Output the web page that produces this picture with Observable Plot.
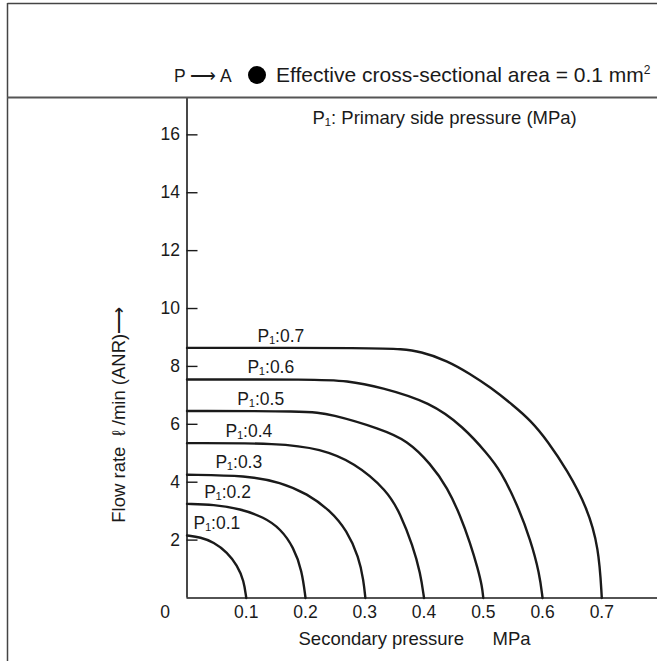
<!DOCTYPE html>
<html>
<head>
<meta charset="utf-8">
<script src="https://cdn.jsdelivr.net/npm/d3@7"></script>
<script src="https://cdn.jsdelivr.net/npm/@observablehq/plot@0.6"></script>
<style>
  html, body { margin: 0; padding: 0; background: #fff; }
  #chart svg { display: block; font-family: "Liberation Sans", Arial, sans-serif; }
</style>
</head>
<body>
<div id="chart"></div>
<script>
// ---- data ----
const pressures = [0.1, 0.2, 0.3, 0.4, 0.5, 0.6, 0.7];
const labelX = [0.011, 0.029, 0.048, 0.065, 0.085, 0.102, 0.119];
const labelLevel = [2.16, 3.25, 4.26, 5.35, 6.46, 7.55, 8.64];
const yTicks = [2, 4, 6, 8, 10, 12, 14, 16];
const xTicks = [0.1, 0.2, 0.3, 0.4, 0.5, 0.6, 0.7];

const curveP01 = [[0,2.16],[0.023,2.10],[0.045,1.93],[0.068,1.58],[0.085,1.12],[0.096,0.60],[0.100,0]];
const curveP02 = [[0,3.25],[0.045,3.23],[0.090,3.08],[0.130,2.79],[0.158,2.39],[0.180,1.75],[0.194,0.95],[0.200,0]];
const curveP03 = [[0,4.26],[0.102,4.23],[0.158,4.00],[0.203,3.60],[0.242,3.02],[0.270,2.33],[0.290,1.41],[0.298,0.60],[0.301,0]];
const curveP04 = [[0,5.35],[0.158,5.35],[0.225,5.15],[0.282,4.69],[0.338,3.71],[0.360,2.91],[0.381,1.81],[0.394,0.85],[0.400,0]];
const curveP05 = [[0,6.46],[0.202,6.46],[0.242,6.36],[0.327,5.84],[0.372,5.44],[0.411,4.64],[0.440,3.80],[0.461,2.85],[0.478,1.90],[0.491,1.00],[0.498,0.40],[0.500,0]];
const curveP06 = [[0,7.55],[0.214,7.55],[0.270,7.51],[0.327,7.28],[0.411,6.76],[0.467,5.90],[0.507,4.98],[0.529,4.40],[0.557,3.25],[0.580,1.99],[0.595,0.84],[0.600,0]];
const curveP07 = [[0,8.64],[0.327,8.64],[0.360,8.60],[0.394,8.52],[0.439,8.20],[0.478,7.74],[0.512,7.28],[0.551,6.65],[0.580,6.13],[0.608,5.44],[0.642,4.40],[0.675,3.14],[0.695,1.75],[0.700,0]];

const curves = [curveP01, curveP02, curveP03, curveP04, curveP05, curveP06, curveP07];

const titleLeft = "P \u27F6 A";
const titleRight = "Effective cross-sectional area = 0.1 mm";
const subTitle = "P\u2081: Primary side pressure (MPa)";
const xLabel = "Secondary pressure";
const xUnit = "MPa";
const yLabel = "Flow rate  \u2113 /min (ANR)\u27F6";

// ---- build tables ----
const lineData = curves.flatMap((c, i) => c.map(([x, y]) => ({p: pressures[i], x, y})));
const labelData = pressures.map((p, i) => ({p, x: labelX[i], y: labelLevel[i], text: "P\u2081:" + p}));

const ink = "#1a1a1a";

const plot = Plot.plot({
  width: 657,
  height: 661,
  marginLeft: 186.5,
  marginRight: 0,
  marginTop: 97,
  marginBottom: 63.5,
  style: {fontFamily: '"Liberation Sans", Arial, sans-serif', fontSize: "17px", color: ink, background: "#fff"},
  x: {domain: [0, 0.794]},
  y: {domain: [0, 17.29]},
  marks: [
    Plot.ruleX([0], {stroke: ink, strokeWidth: 1.6}),
    Plot.ruleY([0], {stroke: ink, strokeWidth: 1.6}),
    Plot.axisY(yTicks, {tickSize: -11, tickPadding: 18, fontSize: 17.5, stroke: ink, strokeWidth: 1.4, label: null, tickFormat: d => String(d)}),
    Plot.axisX(xTicks, {tickSize: 0, tickPadding: 8, fontSize: 17.5, label: null, tickFormat: d => String(d)}),
    Plot.text([0], {x: d => d, y: d => d, text: d => String(d), dx: -22, dy: 14, fontSize: 17.5, fill: ink}),
    Plot.line(lineData, {x: "x", y: "y", z: "p", curve: "basis", stroke: ink, strokeWidth: 2.4}),
    Plot.text(labelData, {x: "x", y: "y", text: "text", textAnchor: "start", lineAnchor: "middle", dy: -12, fontSize: 17.5, fill: ink}),
    Plot.text([subTitle], {frameAnchor: "top-left", dx: 125.5, dy: 21, textAnchor: "start", lineAnchor: "middle", fontSize: 18.5, fill: ink}),
    Plot.text([xLabel], {frameAnchor: "bottom-left", dx: 111.5, dy: 41, textAnchor: "start", lineAnchor: "middle", fontSize: 18.5, fill: ink}),
    Plot.text([xUnit], {frameAnchor: "bottom-left", dx: 305.5, dy: 41, textAnchor: "start", lineAnchor: "middle", fontSize: 18.5, fill: ink}),
    Plot.text([yLabel], {frameAnchor: "left", dx: -68, dy: 67, rotate: -90, textAnchor: "middle", lineAnchor: "middle", fontSize: 18.5, fill: ink})
  ]
});

// frame and header decorations
const svg = d3.select(plot);
const deco = svg.append("g").attr("text-anchor", "start");
deco.append("line").attr("x1", 7.5).attr("x2", 657).attr("y1", 3.5).attr("y2", 3.5).attr("stroke", "#444").attr("stroke-width", 1.5);
deco.append("line").attr("x1", 7.5).attr("x2", 7.5).attr("y1", 3).attr("y2", 661).attr("stroke", "#444").attr("stroke-width", 1.5);
deco.append("line").attr("x1", 7).attr("x2", 657).attr("y1", 97.5).attr("y2", 97.5).attr("stroke", "#555").attr("stroke-width", 2);
deco.append("text").attr("x", 174).attr("y", 81.5).attr("font-size", 17.5).attr("fill", ink).text(titleLeft);
deco.append("circle").attr("cx", 257).attr("cy", 75).attr("r", 9).attr("fill", "#000");
const t = deco.append("text").attr("x", 276).attr("y", 82).attr("font-size", 21).attr("fill", ink);
t.append("tspan").text(titleRight);
t.append("tspan").attr("dy", -8).attr("font-size", 12).text("2");

document.getElementById("chart").appendChild(plot);
</script>
</body>
</html>
